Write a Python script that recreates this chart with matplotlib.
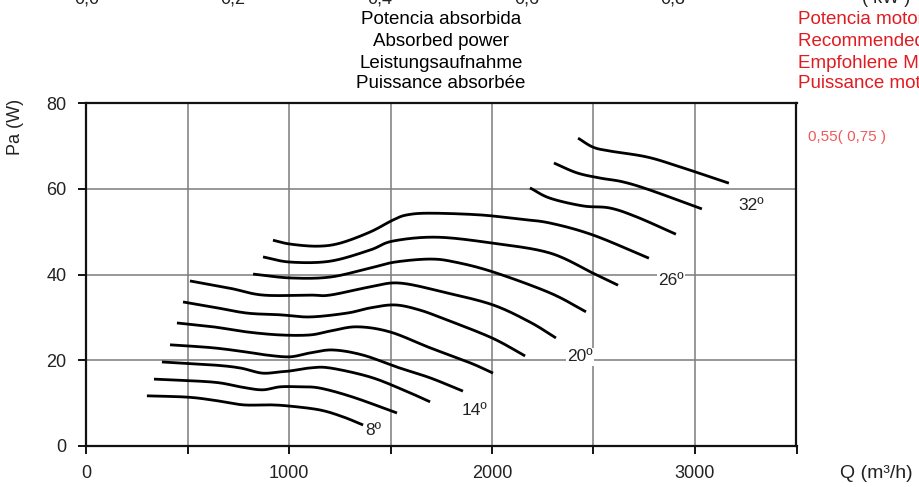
import numpy as np
import matplotlib
matplotlib.use("Agg")
import matplotlib.pyplot as plt

plt.rcParams['font.family'] = ['Liberation Sans', 'DejaVu Sans']

# Absorbed power curves Pa (W) versus airflow Q (m3/h), one per temperature
temps = [8, 10, 12, 14, 16, 18, 20, 22, 24, 26, 28, 30, 32]

q_08 = [300, 498, 626, 773, 906, 1005, 1153, 1266, 1365]
p_08 = [11.7, 11.4, 10.7, 9.6, 9.6, 9.3, 8.4, 6.8, 4.9]

q_10 = [335, 626, 759, 867, 956, 1054, 1153, 1315, 1532]
p_10 = [15.6, 14.9, 13.8, 13.1, 13.8, 13.8, 13.5, 11.4, 7.7]

q_12 = [374, 626, 759, 867, 956, 1005, 1103, 1202, 1399, 1562, 1695]
p_12 = [19.6, 18.9, 18.2, 17.0, 17.3, 17.5, 18.2, 18.2, 16.1, 13.1, 10.3]

q_14 = [414, 626, 793, 892, 1005, 1103, 1217, 1365, 1532, 1695, 1857]
p_14 = [23.6, 22.9, 21.9, 21.2, 20.8, 21.7, 22.4, 21.2, 18.4, 15.9, 12.8]

q_16 = [448, 626, 793, 956, 1103, 1202, 1335, 1498, 1695, 1892, 2005]
p_16 = [28.7, 27.8, 26.6, 25.9, 25.9, 26.8, 27.8, 26.6, 22.9, 19.4, 17.0]

q_18 = [478, 626, 793, 956, 1103, 1286, 1399, 1522, 1645, 1778, 1941, 2039, 2163]
p_18 = [33.6, 32.4, 31.0, 30.6, 30.1, 31.0, 32.2, 32.9, 31.7, 29.4, 26.4, 24.3, 21.0]

q_20 = [512, 709, 872, 1103, 1202, 1399, 1547, 1778, 2005, 2187, 2315]
p_20 = [38.5, 36.8, 35.2, 35.2, 35.2, 37.1, 38.0, 35.7, 32.9, 28.9, 25.2]

q_22 = [823, 1005, 1202, 1399, 1522, 1695, 1818, 2005, 2286, 2463]
p_22 = [40.1, 39.2, 39.4, 41.5, 42.9, 43.6, 42.9, 40.6, 35.7, 31.3]

q_24 = [872, 1005, 1202, 1399, 1512, 1729, 2005, 2286, 2498, 2621]
p_24 = [44.1, 42.9, 43.1, 45.7, 47.8, 48.7, 47.3, 45.0, 40.3, 37.5]

q_26 = [921, 1005, 1138, 1251, 1399, 1512, 1581, 1695, 1941, 2138, 2286, 2498, 2773]
p_26 = [48.0, 47.1, 46.6, 47.3, 49.9, 52.7, 53.9, 54.3, 53.9, 52.9, 52.0, 49.2, 43.8]

q_28 = [2187, 2286, 2448, 2581, 2714, 2906]
p_28 = [60.2, 57.8, 56.0, 55.5, 53.4, 49.4]

q_30 = [2305, 2419, 2532, 2645, 2778, 3034]
p_30 = [66.0, 63.7, 62.5, 61.6, 59.7, 55.3]

q_32 = [2424, 2498, 2581, 2764, 2926, 3167]
p_32 = [71.8, 69.7, 68.8, 67.4, 65.1, 61.3]

curves_q = [q_08, q_10, q_12, q_14, q_16, q_18, q_20, q_22, q_24, q_26, q_28, q_30, q_32]
curves_p = [p_08, p_10, p_12, p_14, p_16, p_18, p_20, p_22, p_24, p_26, p_28, p_30, p_32]

# Temperature labels: text, position (Q, Pa)
label_text = ["8º", "14º", "20º", "26º", "32º"]
label_q = [1414, 1916, 2433, 2882, 3276]
label_p = [3.5, 8.2, 20.8, 38.5, 56.0]

x_ticks = [0, 1000, 2000, 3000]
y_ticks = [0, 20, 40, 60, 80]
top_tick_text = ["0,0", "0,2", "0,4", "0,6", "0,8", "( kW )"]

title_lines = ["Potencia absorbida", "Absorbed power", "Leistungsaufnahme", "Puissance absorbée"]
motor_lines = ["Potencia motor recomendada", "Recommended motor power",
               "Empfohlene Motorleistung", "Puissance moteur conseillée"]
motor_value = "0,55( 0,75 )"


def catmull_rom(xs, ys, n=24):
    """Smooth polyline through the given points for drawing."""
    pts = np.column_stack([xs, ys]).astype(float)
    ext = np.vstack([2 * pts[0] - pts[1], pts, 2 * pts[-1] - pts[-2]])
    t = np.linspace(0, 1, n, endpoint=False)[:, None]
    segs = []
    for i in range(1, len(ext) - 2):
        p0, p1, p2, p3 = ext[i - 1], ext[i], ext[i + 1], ext[i + 2]
        seg = 0.5 * (2 * p1 + (-p0 + p2) * t
                     + (2 * p0 - 5 * p1 + 4 * p2 - p3) * t ** 2
                     + (-p0 + 3 * p1 - 3 * p2 + p3) * t ** 3)
        segs.append(seg)
    segs.append(pts[-1:])
    out = np.vstack(segs)
    return out[:, 0], out[:, 1]


fig = plt.figure(figsize=(9.2, 4.87), dpi=100)
ax = fig.add_axes([86 / 920, 41 / 487, 710.5 / 920, 343 / 487])

ax.set_xlim(0, 3500)
ax.set_ylim(0, 80)

ax.set_xticks(np.arange(0, 3501, 500))
ax.set_xticklabels([str(v) if v in x_ticks else "" for v in range(0, 3501, 500)])
ax.set_yticks(y_ticks)
ax.set_yticklabels([str(v) for v in y_ticks])

ax.tick_params(axis='both', direction='out', length=6, width=1.3, color='black',
               labelsize=13, labelcolor='#222222', pad=8)

for gx in range(500, 3500, 500):
    ax.axvline(gx, color='#7c7c7c', lw=1.1, zorder=1)
for gy in [20, 40, 60]:
    ax.axhline(gy, color='#7c7c7c', lw=1.1, zorder=1)

for s in ax.spines.values():
    s.set_color('#111111')
    s.set_linewidth(1.6)

for qs, ps in zip(curves_q, curves_p):
    sx, sy = catmull_rom(qs, ps)
    ax.plot(sx, sy, color='black', lw=2.0, solid_capstyle='butt', zorder=3)

for txt, lq, lp in zip(label_text, label_q, label_p):
    ax.text(lq, lp, txt, fontsize=12.5, color='#222222', ha='center', va='center',
            zorder=4, bbox=dict(facecolor='white', edgecolor='none', pad=1.0))

fig.text(16 / 920, 1 - 127 / 487, "Pa (W)", fontsize=13, color='#222222',
         rotation=90, ha='center', va='center')

fig.text(876 / 920, 1 - 473 / 487, "Q (m³/h)", fontsize=14, color='#222222',
         ha='center', va='center')

# Partially visible upper scale
top_x = [87, 233, 380, 527, 673, 886]
for tx, tt in zip(top_x, top_tick_text):
    fig.text(tx / 920, 1 - 3 / 487, tt, fontsize=13, color='#222222',
             ha='center', va='baseline')

line_y = [20, 42, 63, 84]
for ly, t in zip(line_y, title_lines):
    fig.text(441 / 920, 1 - ly / 487, t, fontsize=13.5, color='black',
             ha='center', va='center')
for ly, t in zip(line_y, motor_lines):
    fig.text(798 / 920, 1 - ly / 487, t, fontsize=13.5, color='#e01b22',
             ha='left', va='center')

fig.text(808 / 920, 1 - 137 / 487, motor_value, fontsize=11, color='#ee5a5a',
         ha='left', va='center')

fig.savefig("out.png", dpi=100)
